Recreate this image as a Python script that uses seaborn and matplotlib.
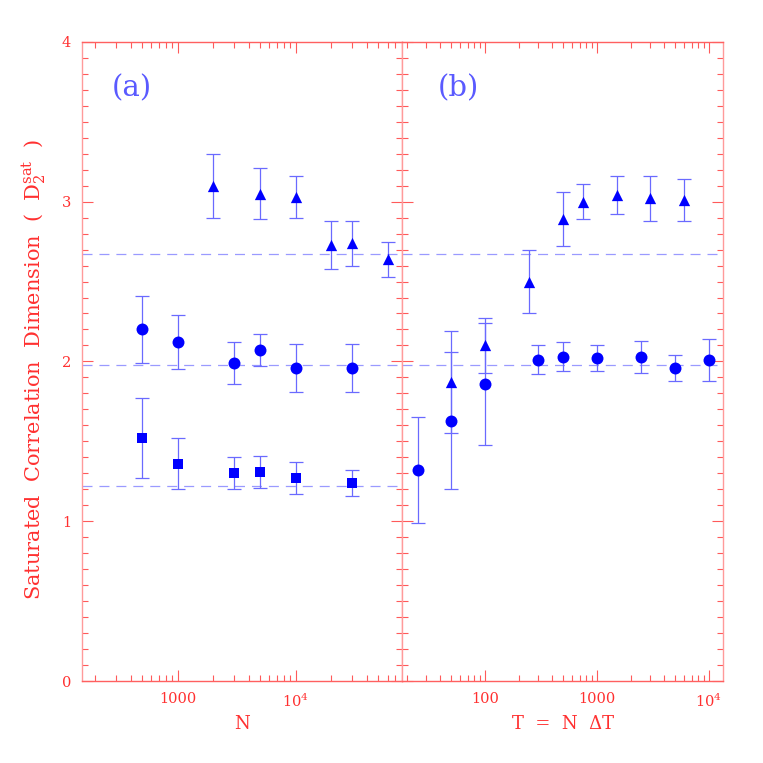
import numpy as np
import pandas as pd
import matplotlib
matplotlib.use("Agg")
import matplotlib.pyplot as plt
import seaborn as sns
from matplotlib.ticker import FixedLocator, FixedFormatter, NullFormatter, MultipleLocator, LogLocator

# ---------------- data ----------------
# panel (a): vs N
a_circ_N = [500, 1000, 3000, 5000, 10000, 30000]
a_circ_D = [2.20, 2.12, 1.99, 2.07, 1.96, 1.96]
a_circ_E = [0.21, 0.17, 0.13, 0.10, 0.15, 0.15]

a_sq_N = [500, 1000, 3000, 5000, 10000, 30000]
a_sq_D = [1.52, 1.36, 1.30, 1.31, 1.27, 1.24]
a_sq_E = [0.25, 0.16, 0.10, 0.10, 0.10, 0.08]

a_tri_N = [2000, 5000, 10000, 20000, 30000, 60000]
a_tri_D = [3.10, 3.05, 3.03, 2.73, 2.74, 2.64]
a_tri_E = [0.20, 0.16, 0.13, 0.15, 0.14, 0.11]

# panel (b): vs T = N dT
b_circ_T = [25, 50, 100, 300, 500, 1000, 2500, 5000, 10000]
b_circ_D = [1.32, 1.63, 1.86, 2.01, 2.03, 2.02, 2.03, 1.96, 2.01]
b_circ_E = [0.33, 0.43, 0.38, 0.09, 0.09, 0.08, 0.10, 0.08, 0.13]

b_tri_T = [50, 100, 250, 500, 750, 1500, 3000, 6000]
b_tri_D = [1.87, 2.10, 2.50, 2.89, 3.00, 3.04, 3.02, 3.01]
b_tri_E = [0.32, 0.17, 0.20, 0.17, 0.11, 0.12, 0.14, 0.13]

# reference dimensions (dashed lines)
ref_levels_a = [2.67, 1.98, 1.22]
ref_levels_b = [2.67, 1.98]

y_ticks = [0, 1, 2, 3, 4]
y_ticklabels = ["0", "1", "2", "3", "4"]
a_ticks = [1000, 10000]
a_ticklabels = ["1000", r"$\mathregular{10^4}$"]
b_ticks = [100, 1000, 10000]
b_ticklabels = ["100", "1000", r"$\mathregular{10^4}$"]

# ---------------- style ----------------
sns.set_theme(style="white")
plt.rcParams["font.family"] = ["DejaVu Serif"]
plt.rcParams["mathtext.fontset"] = "dejavuserif"
plt.rcParams["lines.scale_dashes"] = False

RED = "#ff3030"
SPINE = "#ff9a9a"
TICK = "#ff5a5a"
BLUE = "#0000ff"
EBLUE = "#6a6aff"
DASH = "#9a9aff"
LBL = "#5a5aff"

W = H = 763
fig = plt.figure(figsize=(7.63, 7.63), dpi=100)
axA = fig.add_axes([0.1079, 0.1071, 0.4194, 0.8383])
axB = fig.add_axes([0.5273, 0.1071, 0.4199, 0.8383])


def draw_set(ax, x, y, e, marker, s):
    df = pd.DataFrame({"x": x, "y": y, "err": e})
    ax.errorbar(df["x"], df["y"], yerr=df["err"], fmt="none", ecolor=EBLUE,
                elinewidth=0.9, capsize=4.8, capthick=0.9, zorder=2)
    sns.scatterplot(data=df, x="x", y="y", marker=marker, s=s, color=BLUE,
                    linewidth=0, ax=ax, zorder=3, legend=False)


def style_axis(ax, xlim, ticks, labels, showy):
    ax.set_xscale("log")
    ax.set_xlim(*xlim)
    ax.set_ylim(0, 4)
    ax.xaxis.set_major_locator(FixedLocator(ticks))
    ax.xaxis.set_major_formatter(FixedFormatter(labels))
    ax.xaxis.set_minor_locator(LogLocator(base=10, subs=np.arange(2, 10)))
    ax.xaxis.set_minor_formatter(NullFormatter())
    ax.yaxis.set_major_locator(FixedLocator(y_ticks))
    ax.yaxis.set_major_formatter(FixedFormatter(y_ticklabels))
    ax.yaxis.set_minor_locator(MultipleLocator(0.1))
    ax.tick_params(which="both", direction="in", top=True, right=True,
                   bottom=True, left=True, color=TICK, width=0.8,
                   labelcolor=RED, labelsize=10.5)
    ax.tick_params(which="major", length=8, pad=8)
    ax.tick_params(which="minor", length=4)
    if not showy:
        ax.tick_params(axis="y", labelleft=False)
    for sp in ax.spines.values():
        sp.set_color(SPINE)
        sp.set_linewidth(1.0)
    ax.spines["top"].set_color("#ff6060")
    ax.spines["bottom"].set_color("#ff6060")
    ax.grid(False)
    ax.set_xlabel("")
    ax.set_ylabel("")


for lev in ref_levels_a:
    axA.axhline(lev, color=DASH, lw=0.9, linestyle=(0, (7.2, 5.0)), zorder=1)
for lev in ref_levels_b:
    axB.axhline(lev, color=DASH, lw=0.9, linestyle=(0, (7.2, 5.0)), zorder=1)

draw_set(axA, a_tri_N, a_tri_D, a_tri_E, "^", 66)
draw_set(axA, a_circ_N, a_circ_D, a_circ_E, "o", 74)
draw_set(axA, a_sq_N, a_sq_D, a_sq_E, "s", 45)

draw_set(axB, b_tri_T, b_tri_D, b_tri_E, "^", 66)
draw_set(axB, b_circ_T, b_circ_D, b_circ_E, "o", 74)

style_axis(axA, (156, 80000), a_ticks, a_ticklabels, True)
style_axis(axB, (18.3, 13300), b_ticks, b_ticklabels, False)

axA.set_xlabel("N", color=RED, fontsize=13)
axA.xaxis.set_label_coords(0.5, -0.052)
axB.set_xlabel("T  =  N  ΔT", color=RED, fontsize=13)
axB.xaxis.set_label_coords(0.5, -0.052)
axA.set_ylabel(r"Saturated  Correlation  Dimension  (  $\mathregular{D_2^{sat}}$  )",
               color=RED, fontsize=15)
axA.yaxis.set_label_coords(-0.106, 0.488)

fig.text(131.7 / W, 1 - 88.3 / H, "(a)", fontsize=21, color=LBL,
         ha="center", va="center")
fig.text(458 / W, 1 - 88.3 / H, "(b)", fontsize=21, color=LBL,
         ha="center", va="center")

fig.savefig("out.png", dpi=100)
